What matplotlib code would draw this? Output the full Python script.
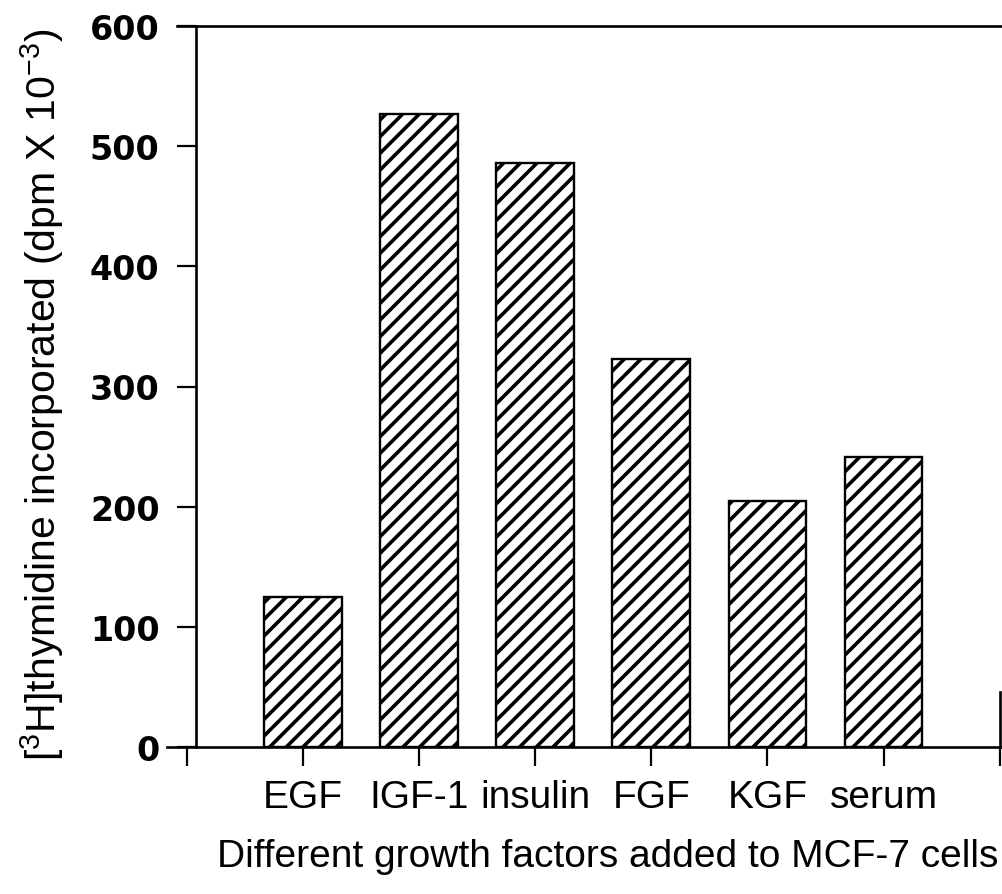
import matplotlib
matplotlib.use("Agg")
import matplotlib.pyplot as plt

# data
factors = ["EGF", "IGF-1", "insulin", "FGF", "KGF", "serum"]
thymidine = [125, 527, 486, 323, 205, 241]
positions = [1, 2, 3, 4, 5, 6]
tick_positions = [0, 1, 2, 3, 4, 5, 6, 7]
tick_labels = [""] + factors + [""]
y_ticks = [0, 100, 200, 300, 400, 500, 600]

plt.rcParams["font.family"] = ["Liberation Sans", "DejaVu Sans"]
plt.rcParams["mathtext.fontset"] = "custom"
plt.rcParams["mathtext.rm"] = "Liberation Sans"
plt.rcParams["mathtext.it"] = "Liberation Sans:italic"
plt.rcParams["hatch.linewidth"] = 2.6
plt.rcParams["hatch.color"] = "black"

W, H = 1002, 895
fig = plt.figure(figsize=(W / 100, H / 100), dpi=100)
ax = fig.add_axes([167 / W, 1 - 748 / H, (1002 - 167) / W, (748 - 27) / H])

ax.bar(positions, thymidine, width=0.67, color="white", edgecolor="black",
       linewidth=1.7, hatch="//")

ax.set_xlim(-0.17, 7.02)
ax.set_ylim(0, 600)

# spines like the scanned figure
ax.spines["left"].set_position(("data", 0.077))
ax.spines["top"].set_bounds(-0.086, 7.02)
ax.spines["right"].set_position(("data", 7.0))
ax.spines["right"].set_bounds(0, 46)
for s in ax.spines.values():
    s.set_linewidth(1.9)
    s.set_color("black")
ax.spines["bottom"].set_zorder(5)

ax.set_yticks(y_ticks)
ax.set_yticklabels([str(v) for v in y_ticks], fontsize=24, fontweight="bold",
                   family="DejaVu Sans")
ax.tick_params(axis="y", direction="out", length=14, width=1.6, pad=12)

ax.set_xticks(tick_positions)
ax.set_xticklabels(tick_labels, fontsize=28)
ax.tick_params(axis="x", direction="out", length=14, width=1.6, pad=9)

ax.set_xlabel("Different growth factors added to MCF-7 cells", fontsize=28)
ax.xaxis.set_label_coords((608 - 167) / 835, -0.126)

ax.set_ylabel(r"[$^3$H]thymidine incorporated (dpm X 10$^{-3}$)", fontsize=29.5)
ax.yaxis.set_label_coords((66 - 167) / 835, 0.49)

fig.savefig("out.png", dpi=100)
